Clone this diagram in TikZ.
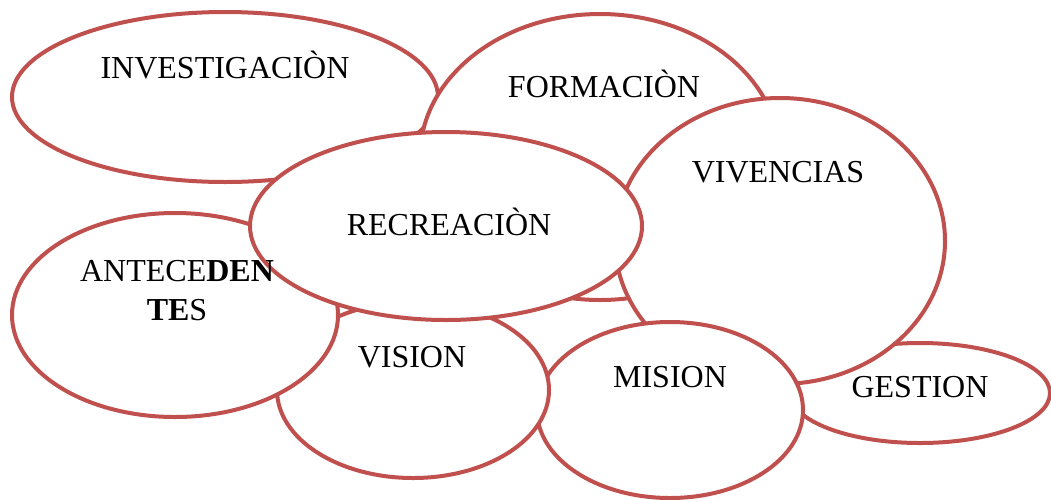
\documentclass[tikz,border=0pt]{standalone}
\usepackage{fontspec}
\setmainfont{Liberation Serif}
\usetikzlibrary{shapes.geometric}
\definecolor{bubred}{HTML}{C0504D}
\tikzset{
  bubble/.style={ellipse, draw=bubred, fill=white, line width=4pt, inner sep=0pt},
  lbl/.style={anchor=base, inner sep=0pt, font=\fontsize{32}{38}\selectfont}
}
\begin{document}
\begin{tikzpicture}[x=1pt,y=-1pt]
\useasboundingbox (0,0) rectangle (1051,499);
\node[bubble, minimum width=426pt, minimum height=170pt] (inv) at (225,97) {};
\node[bubble, minimum width=360pt, minimum height=286pt] (for) at (600,157) {};
\node[bubble, minimum width=260pt, minimum height=100pt] (ges) at (920,393) {};
\node[bubble, minimum width=330pt, minimum height=286pt] (viv) at (780,241) {};
\node[bubble, minimum width=266pt, minimum height=176pt] (mis) at (670,410) {};
\node[bubble, minimum width=272pt, minimum height=176pt] (vis) at (413,390) {};
\node[bubble, minimum width=326pt, minimum height=204pt] (ant) at (175,315) {};
\node[bubble, minimum width=392pt, minimum height=188pt] (rec) at (446,226) {};
\node[lbl] (invt) at (225,78) {INVESTIGACIÒN};
\node[lbl] (fort) at (604,97) {FORMACIÒN};
\node[lbl] (vivt) at (778,182) {VIVENCIAS};
\node[lbl] (rect) at (449,235) {RECREACIÒN};
\node[lbl] (antt1) at (177,281) {ANTECE\textbf{DEN}};
\node[lbl] (antt2) at (177,320) {\textbf{TE}S};
\node[lbl] (vist) at (412,367) {VISION};
\node[lbl] (mist) at (670,387) {MISION};
\node[lbl] (gest) at (920,397) {GESTION};
\end{tikzpicture}
\end{document}
